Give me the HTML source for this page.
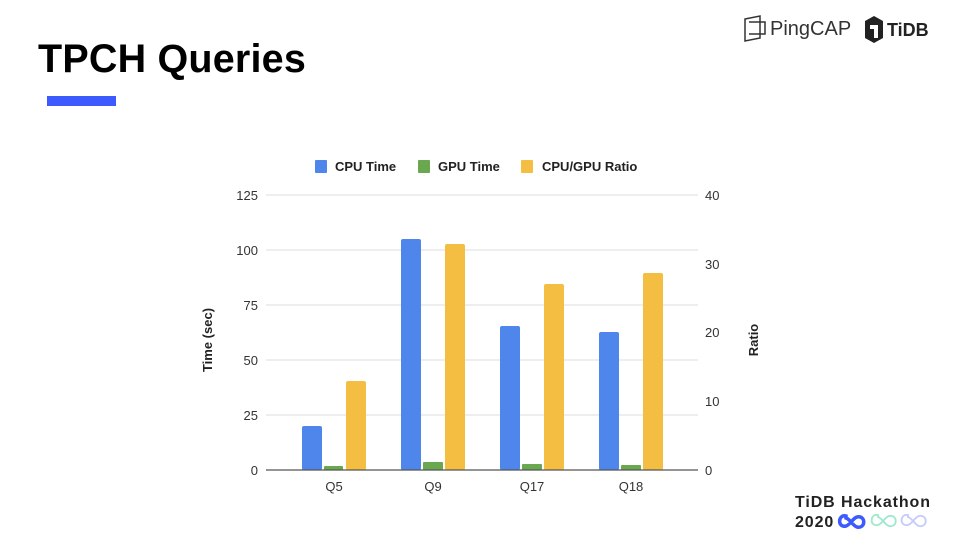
<!DOCTYPE html>
<html><head><meta charset="utf-8"><style>
html,body{margin:0;padding:0;background:#fff;}
body{width:960px;height:540px;position:relative;overflow:hidden;font-family:"Liberation Sans",Arial,sans-serif;}
.title{position:absolute;left:38px;top:37px;font-size:39.5px;font-weight:bold;color:#000;letter-spacing:0.2px;}
.bar{position:absolute;left:47px;top:96px;width:69px;height:10px;background:#3d5afe;}
</style></head><body>
<div class="title">TPCH Queries</div>
<div class="bar"></div>
<svg width="960" height="540" style="position:absolute;left:0;top:0" font-family="Liberation Sans, Arial, sans-serif">
  <g stroke="#333" stroke-width="1.5" fill="none">
    <path d="M745 19 L760 16 L760 38 L745 41 Z"/>
    <path d="M749 22 L765 22 L765 34 L749 34"/>
  </g>
  <text x="770" y="35" font-size="20" fill="#333">PingCAP</text>
  <path d="M874 16 L883 21 L883 38 L874 43 L865 38 L865 21 Z" fill="#222"/>
  <path d="M870 25 L878 25 L878 38 L874 38 L874 29 L870 29 Z" fill="#fff"/>
  <text x="887" y="36" font-size="18" font-weight="bold" fill="#222">TiDB</text>
  <text x="795" y="507" font-size="16" font-weight="bold" fill="#222" letter-spacing="0.9">TiDB Hackathon</text>
  <text x="795" y="527" font-size="16" font-weight="bold" fill="#222" letter-spacing="0.9">2020</text>
  <g fill="none">
    <path d="M848 515 c-8-2 -9 12 0 10 c4-1 7-8 11-9 c9-2 9 12 0 10 c-4-1 -7-8 -11-9z" stroke="#3d5afe" stroke-width="3.5" transform="translate(-2,1) scale(1)"/>
    <path d="M878 515 c-8-2 -9 12 0 10 c4-1 7-8 11-9 c9-2 9 12 0 10 c-4-1 -7-8 -11-9z" stroke="#9ee8cc" stroke-width="1.8"/>
    <path d="M908 515 c-8-2 -9 12 0 10 c4-1 7-8 11-9 c9-2 9 12 0 10 c-4-1 -7-8 -11-9z" stroke="#c5cbfa" stroke-width="1.8"/>
  </g>

  <rect x="315" y="160" width="12" height="13" rx="1" fill="#4f86ec"/>
  <text x="335" y="171" font-size="13" font-weight="bold" fill="#222">CPU Time</text>
  <rect x="418" y="160" width="12" height="13" rx="1" fill="#6aa84f"/>
  <text x="438" y="171" font-size="13" font-weight="bold" fill="#222">GPU Time</text>
  <rect x="521" y="160" width="12" height="13" rx="1" fill="#f3be41"/>
  <text x="542" y="171" font-size="13" font-weight="bold" fill="#222">CPU/GPU Ratio</text>

  <g stroke="#ddd" stroke-width="1">
    <line x1="266" y1="195" x2="698" y2="195"/>
    <line x1="266" y1="250" x2="698" y2="250"/>
    <line x1="266" y1="305" x2="698" y2="305"/>
    <line x1="266" y1="360" x2="698" y2="360"/>
    <line x1="266" y1="415" x2="698" y2="415"/>
  </g>
  <g font-size="13" fill="#333" text-anchor="end">
    <text x="258" y="200">125</text>
    <text x="258" y="255">100</text>
    <text x="258" y="310">75</text>
    <text x="258" y="365">50</text>
    <text x="258" y="420">25</text>
    <text x="258" y="475">0</text>
  </g>
  <g font-size="13" fill="#333">
    <text x="705" y="200">40</text>
    <text x="705" y="269">30</text>
    <text x="705" y="337">20</text>
    <text x="705" y="406">10</text>
    <text x="705" y="475">0</text>
  </g>
  <text transform="translate(212,340) rotate(-90)" font-size="13" font-weight="bold" fill="#222" text-anchor="middle">Time (sec)</text>
  <text transform="translate(758,340) rotate(-90)" font-size="13" font-weight="bold" fill="#222" text-anchor="middle">Ratio</text>

  <g>
    <rect x="302" y="426" width="20" height="44" rx="2" fill="#4f86ec"/>
    <rect x="324" y="466" width="19" height="4" rx="1" fill="#6aa84f"/>
    <rect x="346" y="381" width="20" height="89" rx="2" fill="#f3be41"/>
    <rect x="401" y="239" width="20" height="231" rx="2" fill="#4f86ec"/>
    <rect x="423" y="462" width="20" height="8" rx="1" fill="#6aa84f"/>
    <rect x="445" y="244" width="20" height="226" rx="2" fill="#f3be41"/>
    <rect x="500" y="326" width="20" height="144" rx="2" fill="#4f86ec"/>
    <rect x="522" y="464" width="20" height="6" rx="1" fill="#6aa84f"/>
    <rect x="544" y="284" width="20" height="186" rx="2" fill="#f3be41"/>
    <rect x="599" y="332" width="20" height="138" rx="2" fill="#4f86ec"/>
    <rect x="621" y="465" width="20" height="5" rx="1" fill="#6aa84f"/>
    <rect x="643" y="273" width="20" height="197" rx="2" fill="#f3be41"/>
  </g>
  <line x1="266" y1="470" x2="698" y2="470" stroke="#555" stroke-width="1.2"/>
  <g font-size="13" fill="#333" text-anchor="middle">
    <text x="334" y="491">Q5</text>
    <text x="433" y="491">Q9</text>
    <text x="532" y="491">Q17</text>
    <text x="631" y="491">Q18</text>
  </g>
</svg>
</body></html>
